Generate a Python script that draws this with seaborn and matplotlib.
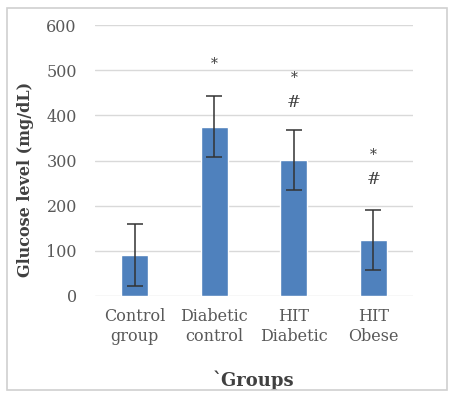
import matplotlib
matplotlib.use("Agg")
import matplotlib.pyplot as plt
import seaborn as sns
import pandas as pd
from matplotlib.patches import Rectangle

# Data: mean blood glucose per group with standard deviation
groups = ["Control\ngroup", "Diabetic\ncontrol", "HIT\nDiabetic", "HIT\nObese"]
glucose = [91, 375, 301, 124]
sd = [69, 68, 67, 67]
# significance marks (y position in mg/dL)
marks_star = [None, 515, 482, 312]
marks_hash = [None, None, 429, 259]

sns.set_theme(style="white")
plt.rcParams["font.family"] = ["DejaVu Serif"]

df = pd.DataFrame({"group": groups, "glucose": glucose})

fig = plt.figure(figsize=(4.52, 3.93), dpi=100)
ax = fig.add_axes([0.210, 0.247, 0.704, 0.689])

sns.barplot(data=df, x="group", y="glucose", color="#4F81BD", saturation=1,
            width=0.34, ax=ax, errorbar=None, zorder=3)

pos = list(range(len(groups)))
ax.errorbar(pos, glucose, yerr=sd, fmt="none", ecolor="#333333",
            elinewidth=1.1, capsize=5.5, capthick=1.1, zorder=4)

for x, y in zip(pos, marks_star):
    if y is not None:
        ax.text(x, y, "*", ha="center", va="center", fontsize=10, color="#404040")
for x, y in zip(pos, marks_hash):
    if y is not None:
        ax.text(x, y, "#", ha="center", va="center", fontsize=12, color="#404040")

ax.set_ylim(0, 600)
ax.set_xlim(-0.5, 3.5)
ax.set_yticks(range(0, 601, 100))
ax.yaxis.grid(True, color="#d9d9d9", linewidth=1.0, zorder=0)
ax.set_axisbelow(True)
for s in ax.spines.values():
    s.set_visible(False)
ax.tick_params(axis="y", length=0, pad=13, labelsize=11.5, labelcolor="#595959")
ax.tick_params(axis="x", length=0, pad=9, labelsize=11.5, labelcolor="#595959")

ax.set_ylabel("Glucose level (mg/dL)", fontsize=11.5, fontweight="bold",
              color="#404040")
ax.yaxis.set_label_coords(-0.19, 0.432)
ax.set_xlabel("`Groups", fontsize=13, fontweight="bold", color="#404040",
              labelpad=18)

fig.patches.append(Rectangle((0.016, 0.008), 0.973, 0.971, transform=fig.transFigure,
                             fill=False, edgecolor="#d0d0d0", linewidth=1.2))

fig.savefig("out.png", dpi=100)
